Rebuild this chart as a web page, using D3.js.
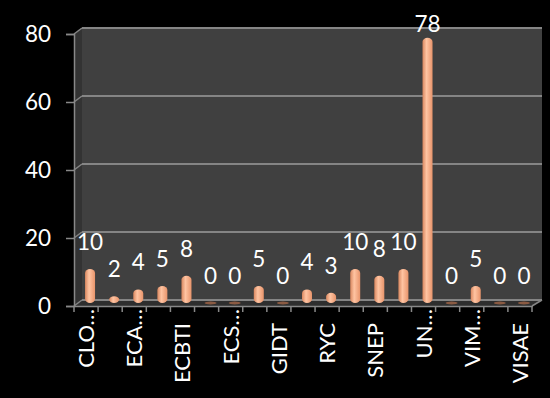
<!DOCTYPE html>
<html>
<head>
<meta charset="utf-8">
<script src="https://cdn.jsdelivr.net/npm/d3@7"></script>
<style>
  html, body { margin:0; padding:0; background:#000; }
  text { font-family: Lato, "Open Sans", sans-serif; fill:#fff; }
</style>
</head>
<body>
<div id="chart"></div>
<script>
const svgWidth = 550;
const svgHeight = 398;

// category labels (every other one is hidden in the original)
const tickLabels = ["CLO…","","ECA…","","ECBTI","","ECS…","","GIDT","","RYC","","SNEP","","UN…","","VIM…","","VISAE"];
const values = [10,2,4,5,8,0,0,5,0,4,3,10,8,10,78,0,5,0,0];
const yTicks = [0,20,40,60,80];

// 3d offset of back wall
const depth = {dx:8, dy:-6};
const plot = {left:74, right:532, top:34, bottom:306};

document.addEventListener("DOMContentLoaded", function(){ drawChart(); });

function drawChart(){
    const svg = d3.select("#chart").append("svg")
                    .attr("width", svgWidth)
                    .attr("height", svgHeight);

    const defs = svg.append("defs");
    const grad = defs.append("linearGradient").attr("id","cyl")
                    .attr("x1","0%").attr("x2","100%").attr("y1","0%").attr("y2","0%");
    grad.append("stop").attr("offset","0%").attr("stop-color","#d9875f");
    grad.append("stop").attr("offset","40%").attr("stop-color","#ffc4a2");
    grad.append("stop").attr("offset","100%").attr("stop-color","#e8946b");

    const xscale = d3.scaleBand()
                    .domain(d3.range(values.length))
                    .range([plot.left, plot.right]);
    const yscale = d3.scaleLinear()
                    .domain([0,80])
                    .range([plot.bottom, plot.top]);

    const y0 = yscale(0), yTop = yscale(80);

    //side wall
    svg.append("path")
        .attr("d", "M"+plot.left+","+y0+"L"+plot.left+","+yTop+"L"+(plot.left+depth.dx)+","+(yTop+depth.dy)+
                   "L"+(plot.left+depth.dx)+","+(y0+depth.dy)+"Z")
        .attr("fill","#333");
    //back wall
    svg.append("rect")
        .attr("x", plot.left+depth.dx).attr("y", yTop+depth.dy)
        .attr("width", plot.right+depth.dx+2-(plot.left+depth.dx))
        .attr("height", y0-yTop)
        .attr("fill","#404040");
    //floor
    svg.append("path")
        .attr("d","M"+plot.left+","+y0+"L"+(plot.left+depth.dx)+","+(y0+depth.dy)+"L"+(plot.right+depth.dx+2)+","+(y0+depth.dy)+
                  "L"+plot.right+","+y0+"Z")
        .attr("fill","#2e2e2e");

    //gridlines on back wall + diagonal on side
    yTicks.forEach(function(t){
        const y = yscale(t);
        svg.append("line")
            .attr("x1", plot.left+depth.dx).attr("x2", plot.right+depth.dx+2)
            .attr("y1", y+depth.dy).attr("y2", y+depth.dy)
            .attr("stroke","#858585").attr("stroke-width",2);
        svg.append("line")
            .attr("x1", plot.left).attr("x2", plot.left+depth.dx)
            .attr("y1", y).attr("y2", y+depth.dy)
            .attr("stroke","#858585").attr("stroke-width",1.5);
    });
    // floor right edge
    svg.append("line")
        .attr("x1", plot.right).attr("y1", y0)
        .attr("x2", plot.right+depth.dx+2).attr("y2", y0+depth.dy)
        .attr("stroke","#858585").attr("stroke-width",1.5);

    //y axis
    const yaxis = d3.axisLeft(yscale).tickValues(yTicks).tickSize(8).tickPadding(15);
    const gy = svg.append("g").attr("transform","translate("+plot.left+",0)").call(yaxis);
    gy.selectAll("path, line").attr("stroke","#888").attr("stroke-width",1.5);
    gy.selectAll("text").attr("font-size","22.5px").attr("fill","#fff")
        .style("font-family","Lato, sans-serif");

    //x axis
    const xaxis = d3.axisBottom(xscale).tickSize(0).tickFormat(function(i){ return tickLabels[i]; });
    const gx = svg.append("g").attr("transform","translate(0,"+y0+")").call(xaxis);
    gx.select("path").attr("stroke","#888").attr("stroke-width",1.5);
    gx.selectAll("text")
        .attr("font-size","22px").attr("fill","#fff")
        .attr("transform","rotate(-90)")
        .attr("x", function(i){ return tickLabels[i].endsWith("…") ? -3 : -17; })
        .attr("y",8)
        .attr("dy","0")
        .attr("text-anchor","end")
        .style("font-family","Lato, sans-serif");

    //category boundary ticks
    svg.append("g").selectAll("line")
        .data(d3.range(values.length+1))
        .enter().append("line")
        .attr("x1", function(i){ return plot.left + i*xscale.step(); })
        .attr("x2", function(i){ return plot.left + i*xscale.step(); })
        .attr("y1", y0).attr("y2", y0+6)
        .attr("stroke","#888").attr("stroke-width",1.5);

    //bars (cylinders at mid depth)
    const bw = 10;
    const mx = depth.dx/2, my = depth.dy/2;
    const bars = svg.append("g");
    values.forEach(function(v,i){
        const cx = xscale(i) + xscale.bandwidth()/2 + mx;
        const base = y0 + my;
        const top = yscale(v) + my;
        if (v === 0){
            bars.append("ellipse")
                .attr("cx", cx).attr("cy", base)
                .attr("rx", bw/2+1).attr("ry", 1.5)
                .attr("fill","#8a5a42");
        } else {
            const h = base - top;
            bars.append("rect")
                .attr("x", cx-bw/2).attr("y", top)
                .attr("width", bw).attr("height", h)
                .attr("rx", bw/2).attr("ry", Math.min(4, h/2))
                .attr("fill","url(#cyl)");
        }
    });

    //value labels
    svg.append("g").selectAll("text")
        .data(values)
        .enter().append("text")
        .attr("x", function(d,i){ return xscale(i) + xscale.bandwidth()/2 + mx; })
        .attr("y", function(d){ return Math.max(yscale(d) + my - 19, 32); })
        .attr("text-anchor","middle")
        .attr("font-size","22.5px")
        .text(function(d){ return d; });
}
</script>
</body>
</html>
